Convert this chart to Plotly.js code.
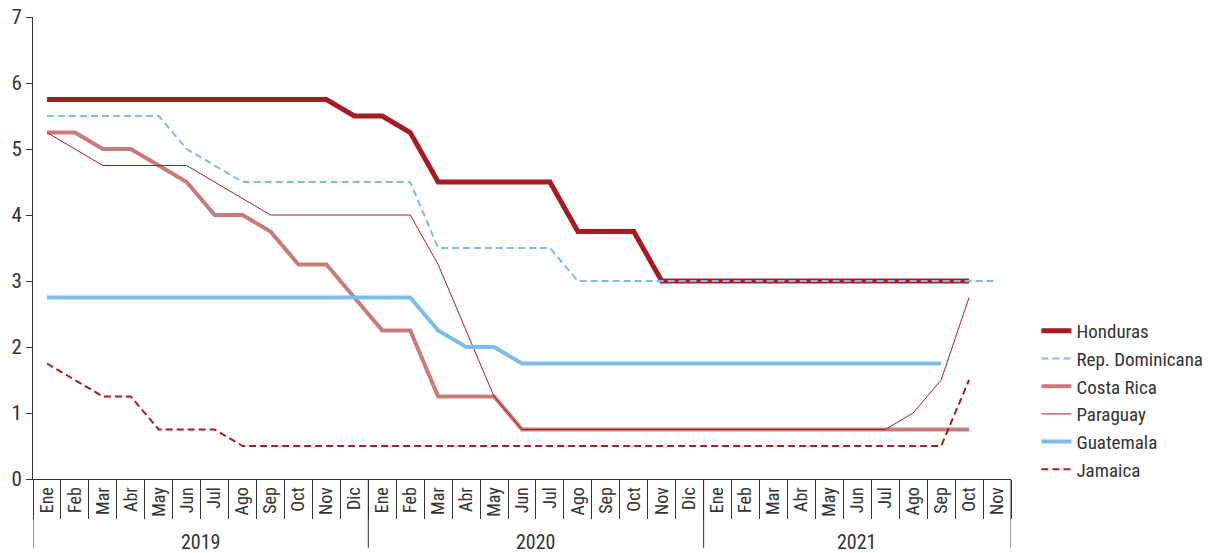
<!DOCTYPE html>
<html>
<head>
<meta charset="utf-8">
<script src="https://cdn.plot.ly/plotly-3.0.1.min.js"></script>
<style>html,body{margin:0;padding:0;background:#fff;}#chart{width:1224px;height:553px;}</style>
</head>
<body>
<div id="chart"></div>
<script>
var years = ["2019","2020","2021"];
var monthsPerYear = [12, 12, 11]; // 2021 shown through Nov
var months = ["Ene","Feb","Mar","Abr","May","Jun","Jul","Ago","Sep","Oct","Nov","Dic"];

var honduras = [5.75,5.75,5.75,5.75,5.75,5.75,5.75,5.75,5.75,5.75,5.75,5.5,
                5.5,5.25,4.5,4.5,4.5,4.5,4.5,3.75,3.75,3.75,3.0,3.0,
                3.0,3.0,3.0,3.0,3.0,3.0,3.0,3.0,3.0,3.0,null];
var repDominicana = [5.5,5.5,5.5,5.5,5.5,5.0,4.75,4.5,4.5,4.5,4.5,4.5,
                     4.5,4.5,3.5,3.5,3.5,3.5,3.5,3.0,3.0,3.0,3.0,3.0,
                     3.0,3.0,3.0,3.0,3.0,3.0,3.0,3.0,3.0,3.0,3.0];
var costaRica = [5.25,5.25,5.0,5.0,4.75,4.5,4.0,4.0,3.75,3.25,3.25,2.75,
                 2.25,2.25,1.25,1.25,1.25,0.75,0.75,0.75,0.75,0.75,0.75,0.75,
                 0.75,0.75,0.75,0.75,0.75,0.75,0.75,0.75,0.75,0.75,null];
var paraguay = [5.25,5.0,4.75,4.75,4.75,4.75,4.5,4.25,4.0,4.0,4.0,4.0,
                4.0,4.0,3.25,2.25,1.25,0.75,0.75,0.75,0.75,0.75,0.75,0.75,
                0.75,0.75,0.75,0.75,0.75,0.75,0.75,1.0,1.5,2.75,null];
var guatemala = [2.75,2.75,2.75,2.75,2.75,2.75,2.75,2.75,2.75,2.75,2.75,2.75,
                 2.75,2.75,2.25,2.0,2.0,1.75,1.75,1.75,1.75,1.75,1.75,1.75,
                 1.75,1.75,1.75,1.75,1.75,1.75,1.75,1.75,1.75,null,null];
var jamaica = [1.75,1.5,1.25,1.25,0.75,0.75,0.75,0.5,0.5,0.5,0.5,0.5,
               0.5,0.5,0.5,0.5,0.5,0.5,0.5,0.5,0.5,0.5,0.5,0.5,
               0.5,0.5,0.5,0.5,0.5,0.5,0.5,0.5,0.5,1.5,null];

// x positions = month index; labels from the month names
var xIdx = [], tickText = [];
for (var y = 0; y < years.length; y++) {
  for (var m = 0; m < monthsPerYear[y]; m++) { tickText.push(months[m]); xIdx.push(xIdx.length); }
}
var nMonths = xIdx.length;

var darkRed = "#A61C22", pinkRed = "#C97B7A", lightBlue = "#7DBDE8";
var FONT = '"Roboto Condensed", "Liberation Sans Narrow", "DejaVu Sans Condensed", sans-serif';
var AXC = "#333";

function tr(name, data, color, width, dash) {
  return {x: xIdx, y: data, name: name, type: "scatter", mode: "lines",
          line: {color: color, width: width, dash: dash || "solid"},
          connectgaps: false, hoverinfo: "skip"};
}
var traces = [
  tr("Honduras", honduras, darkRed, 5),
  tr("Rep. Dominicana", repDominicana, lightBlue, 2, "7px,4px"),
  tr("Costa Rica", costaRica, pinkRed, 4),
  tr("Paraguay", paraguay, darkRed, 1),
  tr("Guatemala", guatemala, lightBlue, 4),
  tr("Jamaica", jamaica, darkRed, 2, "7px,4px")
];

// year group dividers and labels
var shapes = [], annotations = [];
var start = 0;
var divBottom = -0.149, yearY = -0.136;
shapes.push({type: "line", xref: "x", yref: "paper", x0: -0.5, x1: -0.5, y0: 0, y1: divBottom,
             line: {color: AXC, width: 1}});
for (var k = 0; k < years.length; k++) {
  var end = start + monthsPerYear[k];
  shapes.push({type: "line", xref: "x", yref: "paper", x0: end - 0.5, x1: end - 0.5, y0: 0, y1: divBottom,
               line: {color: AXC, width: 1}});
  annotations.push({xref: "x", yref: "paper", x: (start + end - 1) / 2, y: yearY, text: years[k],
                    showarrow: false, xanchor: "center", yanchor: "middle",
                    font: {family: FONT, size: 20, color: AXC}});
  start = end;
}

var layout = {
  width: 1224, height: 553,
  margin: {l: 33, r: 213, t: 17, b: 74},
  paper_bgcolor: "#fff", plot_bgcolor: "#fff",
  font: {family: FONT, color: AXC, size: 18},
  showlegend: true,
  legend: {x: 1.026, xanchor: "left", y: 0.17, yanchor: "middle",
           font: {family: FONT, size: 19, color: AXC}, tracegroupgap: 0, itemwidth: 30},
  xaxis: {range: [-0.5, nMonths - 0.5], autorange: false, showgrid: false, zeroline: false,
          showline: true, linecolor: AXC, linewidth: 1,
          tickmode: "array", tickvals: xIdx, ticktext: tickText, ticks: "", tickangle: -90,
          tickfont: {family: FONT, size: 18, color: AXC},
          minor: {tickmode: "linear", tick0: -0.5, dtick: 1, ticks: "outside", ticklen: 39,
                  tickcolor: AXC, tickwidth: 1, showgrid: false}},
  yaxis: {range: [0, 7], dtick: 1, showgrid: false, zeroline: false, showline: true,
          linecolor: AXC, linewidth: 1, ticks: "outside", ticklen: 6, tickcolor: AXC,
          tickfont: {family: FONT, size: 21, color: AXC}},
  shapes: shapes,
  annotations: annotations
};
Plotly.newPlot("chart", traces, layout, {displayModeBar: false, staticPlot: true});
</script>
</body>
</html>
